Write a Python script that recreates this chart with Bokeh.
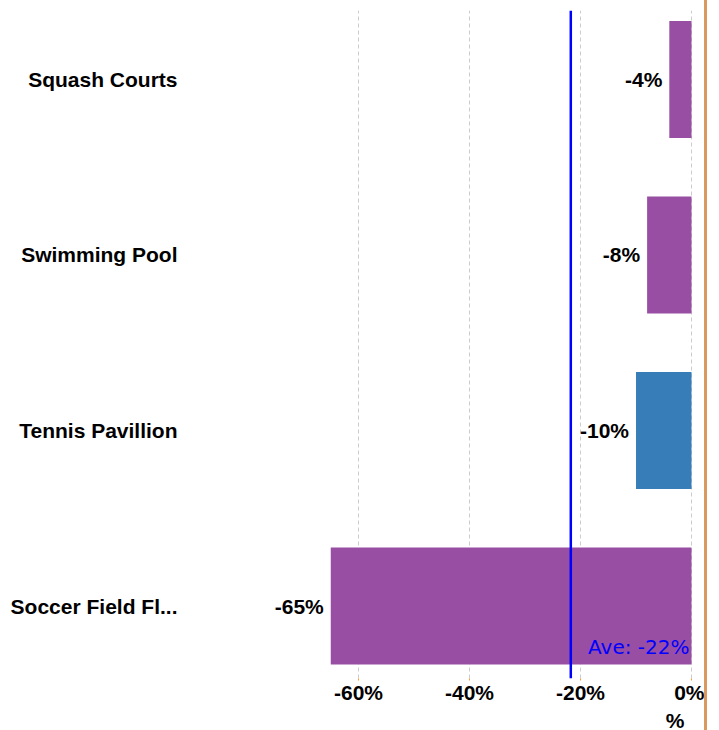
from bokeh.plotting import figure
from bokeh.models import Span, Label, FixedTicker, NumeralTickFormatter, ColumnDataSource, Range1d, Title
from bokeh.core.properties import value
from bokeh.embed import file_html
from bokeh.resources import INLINE

# ---- data ----
categories = ["Soccer Field Fl...", "Tennis Pavillion", "Swimming Pool", "Squash Courts"]
changes = [-0.65, -0.10, -0.08, -0.04]
bar_colors = ["#984ea3", "#377eb8", "#984ea3", "#984ea3"]
x_ticks = [-0.6, -0.4, -0.2, 0.0]
axis_unit = "%"

average = sum(changes) / len(changes)
labels = [f"{v:.0%}" for v in changes]
ypos = list(range(len(categories)))

src = ColumnDataSource(dict(y=ypos, v=changes, c=bar_colors, lab=labels, zero=[0] * len(ypos)))

p = figure(
    frame_width=519, frame_height=668,
    min_border_left=185, min_border_right=0, min_border_top=10, min_border_bottom=50,
    x_range=Range1d(-0.9117, 0.0234), y_range=Range1d(-0.413, 3.393),
    output_backend="svg", toolbar_location=None,
)
p.outline_line_color = None
p.styles = {"border-right": "3px solid #d99a5f"}

p.hbar(y="y", left="v", right="zero", height=0.667, color="c", source=src, line_color=None)

p.text(x="v", y="y", text="lab", source=src, x_offset=-7,
       text_align="right", text_baseline="middle",
       text_font=value("Liberation Sans"), text_font_style="bold",
       text_font_size="21px", text_color="black")

p.add_layout(Span(location=average, dimension="height", line_color="#0000ff", line_width=2.5))
p.add_layout(Label(x=0, y=-0.231, x_offset=-2, text=f"Ave: {average:.0%}", text_align="right",
                   text_baseline="alphabetic", text_color="#0000ff",
                   text_font="DejaVu Sans", text_font_size="20px"))

# y axis
p.yaxis.ticker = FixedTicker(ticks=ypos)
p.yaxis.major_label_overrides = {i: c for i, c in zip(ypos, categories)}
p.yaxis.axis_line_color = None
p.yaxis.major_tick_line_color = None
p.yaxis.major_tick_out = 0
p.yaxis.major_tick_in = 0
p.yaxis.minor_tick_line_color = None
p.yaxis.major_label_standoff = 8
p.yaxis.major_label_text_font = "Liberation Sans"
p.yaxis.major_label_text_font_style = "bold"
p.yaxis.major_label_text_font_size = "21px"
p.yaxis.major_label_text_color = "black"

# x axis
p.xaxis.ticker = FixedTicker(ticks=x_ticks)
p.xaxis.formatter = NumeralTickFormatter(format="0%")
p.xaxis.axis_line_color = None
p.xaxis.major_tick_line_color = "#ff9933"
p.xaxis.major_tick_out = 2
p.xaxis.major_tick_in = 0
p.xaxis.minor_tick_line_color = None
p.xaxis.major_label_standoff = 0
p.xaxis.major_label_text_font = "Liberation Sans"
p.xaxis.major_label_text_font_style = "bold"
p.xaxis.major_label_text_font_size = "21px"
p.xaxis.major_label_text_color = "black"

p.add_layout(Title(text=axis_unit, align="right", offset=20, standoff=0,
                   text_font="Liberation Sans", text_font_style="bold", text_font_size="21px",
                   text_color="black"), "below")

p.ygrid.grid_line_color = None
p.xgrid.grid_line_color = "#cccccc"
p.xgrid.grid_line_dash = "4 3"
p.xgrid.grid_line_width = 1

open("out.html", "w").write(file_html(p, INLINE))
